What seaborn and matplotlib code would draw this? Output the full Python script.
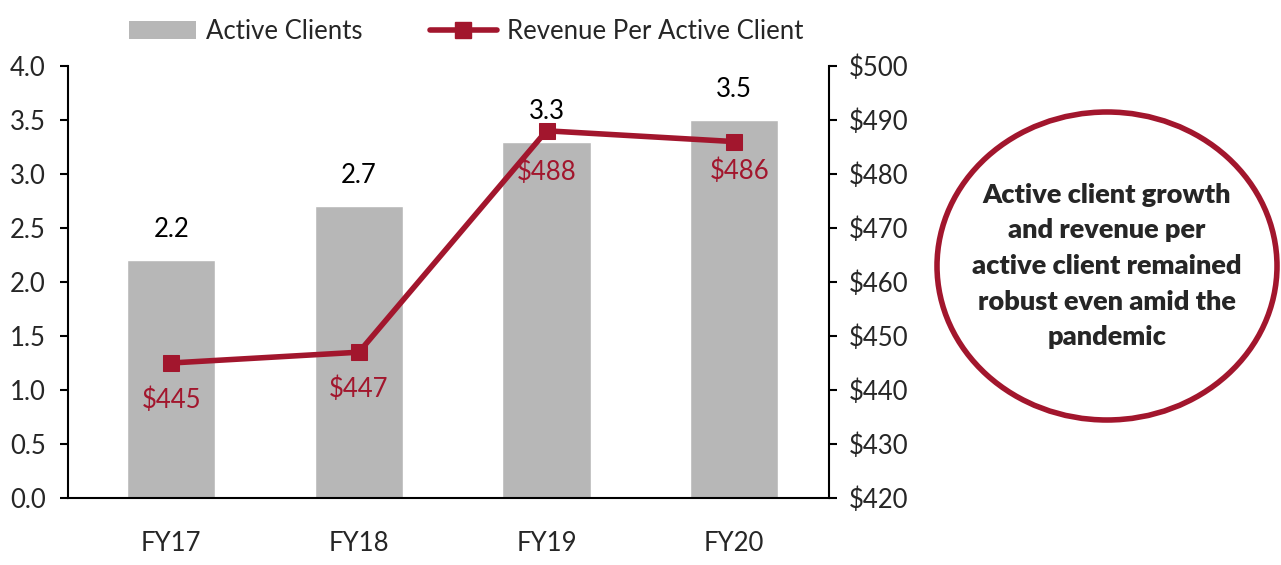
import numpy as np
import pandas as pd
import matplotlib.pyplot as plt
from matplotlib.patches import Ellipse
from matplotlib.lines import Line2D
from matplotlib.patches import Patch
import seaborn as sns

years = ['FY17', 'FY18', 'FY19', 'FY20']
active_clients = [2.2, 2.7, 3.3, 3.5]
revenue_per_client = [445, 447, 488, 486]
bar_labels = ['2.2', '2.7', '3.3', '3.5']
rev_labels = ['$445', '$447', '$488', '$486']

df = pd.DataFrame({'year': years, 'clients': active_clients, 'revenue': revenue_per_client})

GRAY = '#B7B7B7'
RED = '#A2162D'

sns.set_style('white')
plt.rcParams['font.family'] = ['Lato', 'DejaVu Sans']

fig = plt.figure(figsize=(12.81, 5.65), dpi=100)
ax = fig.add_axes([0.0531, 0.1186, 0.594, 0.7646])

sns.barplot(data=df, x='year', y='clients', color=GRAY, width=0.47, ax=ax, saturation=1)
ax.set_ylim(0, 4.0)
ax.set_yticks(np.arange(0, 4.01, 0.5))
ax.set_yticklabels([f'{v:.1f}' for v in np.arange(0, 4.01, 0.5)])
ax.set_xlabel('')
ax.set_ylabel('')

ax2 = ax.twinx()
sns.lineplot(data=df, x='year', y='revenue', color=RED, linewidth=4, marker='s',
             markersize=11, markeredgecolor=RED, ax=ax2)
ax2.set_ylim(420, 500)
ax2.set_yticks(range(420, 501, 10))
ax2.set_yticklabels([f'${v}' for v in range(420, 501, 10)])
ax2.set_ylabel('')
ax.set_xlim(-0.55, 3.505)

for a in (ax, ax2):
    for s in a.spines.values():
        s.set_visible(False)
ax.spines['left'].set_visible(True)
ax.spines['bottom'].set_visible(True)
ax2.spines['right'].set_visible(True)
for s in (ax.spines['left'], ax.spines['bottom'], ax2.spines['right']):
    s.set_color('black')
    s.set_linewidth(1.5)

FS = 18.5
ax.tick_params(axis='y', direction='out', length=6, width=1.5, color='black', labelsize=FS, pad=10, left=True)
ax.tick_params(axis='x', length=0, labelsize=FS, pad=24)
ax2.tick_params(axis='y', direction='out', length=6, width=1.5, color='black', labelsize=FS, pad=8, right=True)

for i, (v, lab) in enumerate(zip(active_clients, bar_labels)):
    ax.annotate(lab, (i, v), xytext=(0, 22), textcoords='offset points',
                ha='center', va='center', fontsize=FS, color='black')

rev_off = [(0, -27), (0, -27), (0, -30), (4, -21)]
for i, (v, lab) in enumerate(zip(revenue_per_client, rev_labels)):
    ax2.annotate(lab, (i, v), xytext=rev_off[i], textcoords='offset points',
                 ha='center', va='center', fontsize=FS, color=RED)

handles = [Patch(facecolor=GRAY, edgecolor='none'),
           Line2D([0], [0], color=RED, linewidth=4, marker='s', markersize=11)]
fig.legend(handles, ['Active Clients', 'Revenue Per Active Client'], loc='center',
           bbox_to_anchor=(0.364, 0.945), ncol=2, frameon=False, fontsize=FS,
           handlelength=2.6, handletextpad=0.4, columnspacing=2.6)

circle = Ellipse((1107 / 1281, 1 - 266 / 565), 340 / 1281, 308 / 565, transform=fig.transFigure,
                 facecolor='white', edgecolor=RED, linewidth=4)
fig.patches.append(circle)
fig.text(1107 / 1281, 1 - 266 / 565,
         'Active client growth\nand revenue per\nactive client remained\nrobust even amid the\npandemic',
         ha='center', va='center', fontsize=19.5, fontweight='heavy', linespacing=1.58)

fig.savefig('out.png', dpi=100)
